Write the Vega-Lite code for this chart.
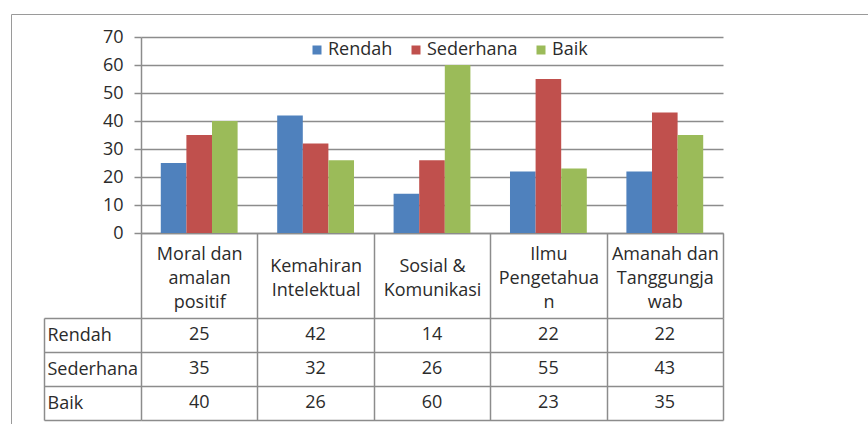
{
  "$schema": "https://vega.github.io/schema/vega-lite/v6.json",
  "padding": {"left": 10, "top": 13, "right": 0, "bottom": 0},
  "background": "white",
  "config": {
    "font": "Open Sans",
    "view": {"stroke": null},
    "axis": {"labelFont": "Open Sans", "labelColor": "#2b2b2b", "domainColor": "#8c8c8c", "tickColor": "#8c8c8c", "gridColor": "#8c8c8c", "labelFontSize": 18}
  },
  "data": {"values": [
    {"cat": "Moral dan amalan positif", "series": "Rendah", "value": 25},
    {"cat": "Moral dan amalan positif", "series": "Sederhana", "value": 35},
    {"cat": "Moral dan amalan positif", "series": "Baik", "value": 40},
    {"cat": "Kemahiran Intelektual", "series": "Rendah", "value": 42},
    {"cat": "Kemahiran Intelektual", "series": "Sederhana", "value": 32},
    {"cat": "Kemahiran Intelektual", "series": "Baik", "value": 26},
    {"cat": "Sosial & Komunikasi", "series": "Rendah", "value": 14},
    {"cat": "Sosial & Komunikasi", "series": "Sederhana", "value": 26},
    {"cat": "Sosial & Komunikasi", "series": "Baik", "value": 60},
    {"cat": "Ilmu Pengetahuan", "series": "Rendah", "value": 22},
    {"cat": "Ilmu Pengetahuan", "series": "Sederhana", "value": 55},
    {"cat": "Ilmu Pengetahuan", "series": "Baik", "value": 23},
    {"cat": "Amanah dan Tanggungjawab", "series": "Rendah", "value": 22},
    {"cat": "Amanah dan Tanggungjawab", "series": "Sederhana", "value": 43},
    {"cat": "Amanah dan Tanggungjawab", "series": "Baik", "value": 35}
  ]},
  "bounds": "flush",
  "spacing": 85,
  "resolve": {"legend": {"color": "independent", "shape": "independent"}},
  "vconcat": [
    {
      "width": 582,
      "height": 196,
      "layer": [
        {
          "mark": {"type": "bar"},
          "encoding": {
            "x": {
              "field": "cat", "type": "nominal",
              "sort": ["Moral dan amalan positif", "Kemahiran Intelektual", "Sosial & Komunikasi", "Ilmu Pengetahuan", "Amanah dan Tanggungjawab"],
              "scale": {"paddingInner": 0, "paddingOuter": 0},
              "axis": {
                "title": null, "labelAngle": 0, "domain": true, "domainWidth": 1.5,
                "ticks": true, "tickBand": "extent", "tickSize": 85, "tickWidth": 1.5,
                "labelPadding": -52, "labelLineHeight": 24, "grid": false, "labelOverlap": false,
                "labelBaseline": {"condition": {"test": "datum.value == 'Kemahiran Intelektual' || datum.value == 'Sosial & Komunikasi'", "value": "middle"}, "value": "line-bottom"},
                "labelExpr": "datum.value == 'Moral dan amalan positif' ? ['Moral dan', 'amalan', 'positif'] : datum.value == 'Kemahiran Intelektual' ? ['Kemahiran', 'Intelektual'] : datum.value == 'Sosial & Komunikasi' ? ['Sosial &', 'Komunikasi'] : datum.value == 'Ilmu Pengetahuan' ? ['Ilmu', 'Pengetahua', 'n'] : datum.value == 'Amanah dan Tanggungjawab' ? ['Amanah dan', 'Tanggungja', 'wab'] : ''"
              }
            },
            "xOffset": {"field": "series", "type": "nominal", "sort": ["Rendah", "Sederhana", "Baik"], "scale": {"paddingInner": 0, "paddingOuter": 0.773}},
            "y": {
              "field": "value", "type": "quantitative",
              "scale": {"domain": [0, 70], "nice": false},
              "axis": {"title": null, "values": [0, 10, 20, 30, 40, 50, 60, 70], "labelOverlap": false, "grid": true, "gridWidth": 1.5, "domainWidth": 1.5, "tickSize": 7, "tickWidth": 1.5, "labelPadding": 11}
            },
            "color": {
              "field": "series", "type": "nominal",
              "scale": {"domain": ["Rendah", "Sederhana", "Baik"], "range": ["#4F81BD", "#C0504D", "#9BBB59"]},
              "legend": {"title": null, "orient": "none", "direction": "horizontal", "legendX": 167, "legendY": 4, "symbolType": "square", "symbolSize": 81, "symbolStrokeWidth": 0, "labelFontSize": 18, "labelFont": "Open Sans", "labelColor": "#2b2b2b", "columnPadding": 14, "labelOffset": 2, "padding": 0}
            }
          }
        },
        {
          "mark": {"type": "point", "opacity": 0},
          "encoding": {
            "shape": {"field": "cat", "type": "nominal", "legend": {"title": null, "orient": "none", "legendX": -130, "legendY": -23, "padding": 460, "strokeColor": "#9a9a9a", "symbolOpacity": 0, "labelExpr": "''", "symbolStrokeWidth": 0}}
          }
        }
      ]
    },
    {
      "width": 582,
      "height": 102,
      "mark": {"type": "text", "font": "Open Sans", "fontSize": 18, "color": "#2b2b2b"},
      "encoding": {
        "x": {
          "field": "cat", "type": "nominal",
          "sort": ["Moral dan amalan positif", "Kemahiran Intelektual", "Sosial & Komunikasi", "Ilmu Pengetahuan", "Amanah dan Tanggungjawab"],
          "scale": {"paddingInner": 0, "paddingOuter": 0},
          "axis": {"title": null, "labels": false, "ticks": false, "domain": false, "grid": true, "tickBand": "extent", "gridWidth": 1.5}
        },
        "y": {
          "field": "series", "type": "nominal", "sort": ["Rendah", "Sederhana", "Baik"],
          "scale": {"paddingInner": 0, "paddingOuter": 0},
          "axis": {"title": null, "offset": 97, "domain": true, "domainWidth": 1.5, "ticks": true, "tickBand": "extent", "tickSize": -97, "tickWidth": 1.5, "grid": true, "gridWidth": 1.5, "labelAlign": "left", "labelPadding": 94, "labelFontSize": 18}
        },
        "text": {"field": "value", "type": "quantitative"}
      }
    }
  ]
}
